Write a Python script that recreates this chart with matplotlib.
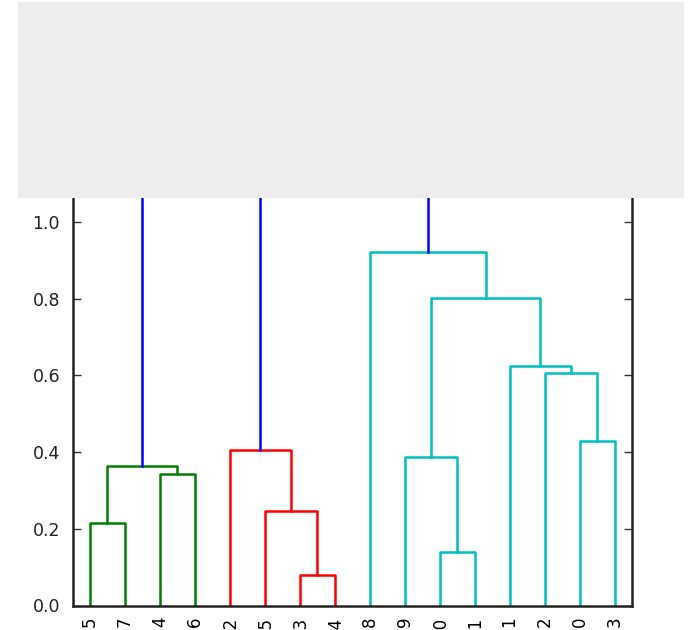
import matplotlib
matplotlib.use("Agg")
import matplotlib.pyplot as plt
from matplotlib.patches import Rectangle

# leaf order along the x axis (as scipy's dendrogram would lay it out)
LEAF_ORDER = [5, 7, 4, 6, 12, 15, 13, 14, 8, 9, 10, 11, 1, 2, 0, 3]

# merges: (left child, right child, height, colour); ids >= 16 are earlier merges
MERGES = [
    (5, 7, 0.216, "g"),
    (4, 6, 0.342, "g"),
    (16, 17, 0.363, "g"),
    (13, 14, 0.079, "r"),
    (15, 19, 0.246, "r"),
    (12, 20, 0.405, "r"),
    (10, 11, 0.139, "c"),
    (9, 22, 0.387, "c"),
    (0, 3, 0.430, "c"),
    (2, 24, 0.606, "c"),
    (1, 25, 0.623, "c"),
    (23, 26, 0.801, "c"),
    (8, 27, 0.921, "c"),
    (18, 21, 1.25, "b"),   # hidden under the grey box
    (29, 28, 1.45, "b"),   # hidden under the grey box
]

Y_TICKS = [0.0, 0.2, 0.4, 0.6, 0.8, 1.0]


def build_links(leaf_order, merges):
    n = len(leaf_order)
    pos = {leaf: 5 + 10 * i for i, leaf in enumerate(leaf_order)}
    height = {leaf: 0.0 for leaf in leaf_order}
    links = []
    for k, (a, b, h, color) in enumerate(merges):
        xa, xb = pos[a], pos[b]
        links.append(([xa, xa, xb, xb], [height[a], h, h, height[b]], color))
        pos[n + k] = (xa + xb) / 2
        height[n + k] = h
    return links


def main():
    plt.rcParams["font.family"] = "DejaVu Sans"
    fig = plt.figure(figsize=(6.89, 6.30), dpi=100)
    ax = fig.add_axes([72.5 / 689, 24.5 / 630, 559.5 / 689, 575.5 / 630])

    for xs, ys, color in build_links(LEAF_ORDER, MERGES):
        ax.plot(xs, ys, color=color, linewidth=1.8)

    ax.set_xlim(0, 10 * len(LEAF_ORDER))
    ax.set_ylim(0, 1.5)
    ax.set_xticks([5 + 10 * i for i in range(len(LEAF_ORDER))])
    ax.set_xticklabels([str(v) for v in LEAF_ORDER], rotation=90, fontsize=12)
    ax.set_yticks(Y_TICKS)
    ax.set_yticklabels([f"{v:.1f}" for v in Y_TICKS], fontsize=12.5)
    ax.tick_params(axis="x", length=0, pad=8)
    ax.tick_params(axis="y", direction="in", length=6, width=1, right=True, pad=9,
                   colors="#333333", labelcolor="#222222")
    for side in ax.spines.values():
        side.set_linewidth(1.8)
        side.set_color("#222222")

    # grey box covering the top of the figure
    fig.add_artist(Rectangle((18 / 689, 1 - 198 / 630), 666 / 689, 196 / 630,
                             transform=fig.transFigure, facecolor="#ededed",
                             edgecolor="none", zorder=10))

    fig.savefig("out.png", dpi=100)
    plt.close(fig)


if __name__ == "__main__":
    main()
